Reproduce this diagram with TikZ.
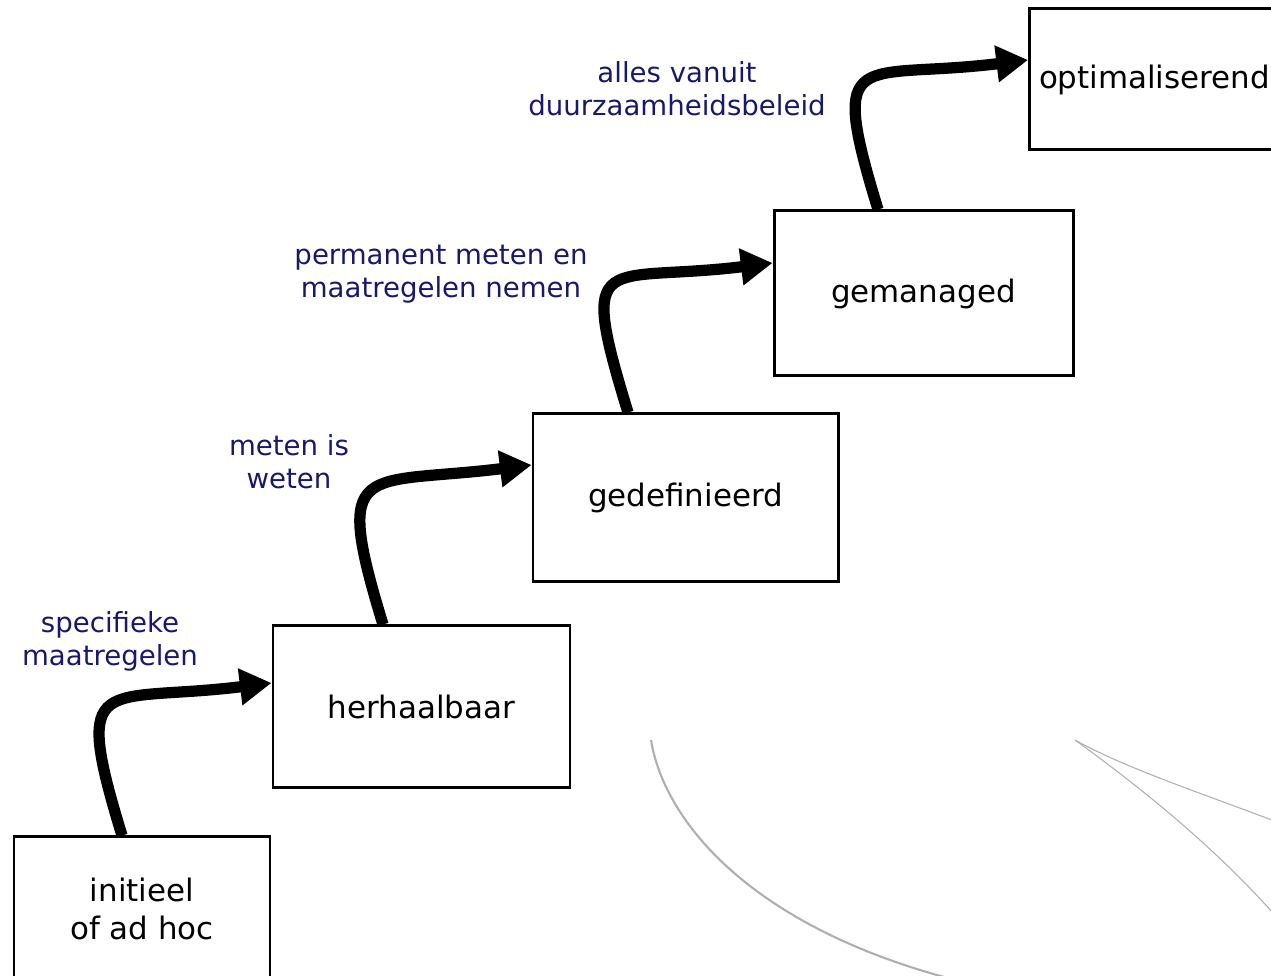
\documentclass[tikz,border=0pt]{standalone}
\usepackage{fontspec}
\setmainfont{DejaVu Sans}
\usepackage{tikz}
\usetikzlibrary{arrows.meta, positioning, calc}
\definecolor{labelnavy}{RGB}{24,24,108}
\definecolor{swooshgray}{RGB}{175,175,175}

\tikzset{
    stage/.style={draw, line width=1.7pt, align=center, inner sep=0pt,
        font=\fontsize{17.6}{22}\selectfont},
    steplabel/.style={text=labelnavy, align=center,
        font=\fontsize{15.7}{18.7}\selectfont},
    stairarrow/.style={line width=6.4pt, -{Triangle[length=18pt,width=20pt]},
        out=107, in=187, out distance=3.5cm, in distance=3.4cm},
    swoosh/.style={swooshgray, line width=0.9pt}
}

\begin{document}
\begin{tikzpicture}
    \useasboundingbox (0,0) rectangle (25.42,19.52);
    \clip (0,0) rectangle (25.42,19.52);

    % faint background swooshes
    \draw[swoosh, line width=1.2pt] (13.02,4.72) .. controls (13.3,3.0) and (15.2,0.8) .. (19.6,-0.2);
    \draw[swoosh, line width=0.6pt] (21.5,4.72) .. controls (22.6,4.1) and (24.5,3.5) .. (26,2.9);
    \draw[swoosh, line width=0.6pt] (21.5,4.72) .. controls (22.7,3.85) and (24.3,2.6) .. (25.6,1.1);

    % stages
    \node[stage, minimum width=5.12cm, minimum height=2.88cm] (initieel) at (2.84,1.34) {initieel\\of ad hoc};
    \node[stage, minimum width=5.94cm, minimum height=3.24cm] (herhaalbaar) at (8.43,5.38) {herhaalbaar};
    \node[stage, minimum width=6.10cm, minimum height=3.36cm] (gedefinieerd) at (13.71,9.56) {gedefinieerd};
    \node[stage, minimum width=5.98cm, minimum height=3.30cm] (gemanaged) at (18.47,13.65) {gemanaged};
    \node[stage, anchor=west, minimum width=5.0cm, minimum height=2.82cm] (optimaliserend) at (20.56,17.93) {optimaliserend};

    % steps up
    \draw[stairarrow] ([xshift=-0.4cm]initieel.north) to ([yshift=0.48cm]herhaalbaar.west);
    \draw[stairarrow] ([xshift=-0.77cm]herhaalbaar.north) to ([yshift=0.66cm]gedefinieerd.west);
    \draw[stairarrow] ([xshift=-1.15cm]gedefinieerd.north) to ([yshift=0.61cm]gemanaged.west);
    \draw[stairarrow] ([xshift=-0.91cm]gemanaged.north) to ([yshift=0.39cm]optimaliserend.west);

    % what each step takes
    \node[steplabel] (maatregelen) at (2.20,6.70) {specifieke\\maatregelen};
    \node[steplabel] (meten) at (5.78,10.28) {meten is\\weten};
    \node[steplabel] (permanent) at (8.82,14.04) {permanent meten en\\maatregelen nemen};
    \node[steplabel] (beleid) at (13.54,17.74) {alles vanuit\\duurzaamheidsbeleid};
\end{tikzpicture}
\end{document}
